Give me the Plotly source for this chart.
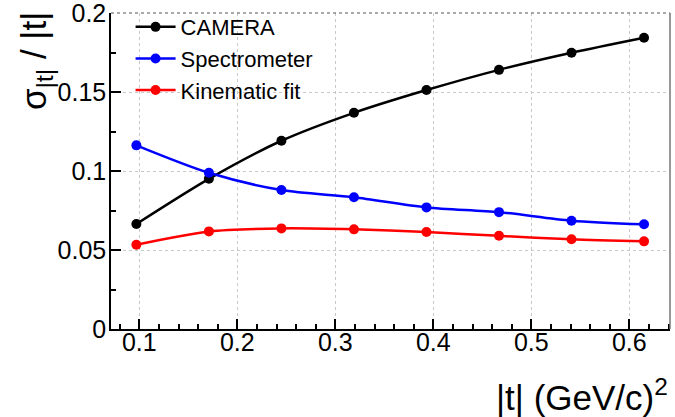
import plotly.graph_objects as go

t_values = [0.097, 0.171, 0.245, 0.319, 0.393, 0.467, 0.541, 0.615]
camera = [0.0665, 0.0951, 0.1192, 0.1369, 0.1513, 0.1641, 0.1749, 0.1844]
spectrometer = [0.1163, 0.0989, 0.0880, 0.0834, 0.0770, 0.0740, 0.0686, 0.0663]
kinematic_fit = [0.0534, 0.0618, 0.0637, 0.0631, 0.0614, 0.0590, 0.0568, 0.0555]

series = [
    ("CAMERA", camera, "#000000"),
    ("Spectrometer", spectrometer, "#0000ff"),
    ("Kinematic fit", kinematic_fit, "#ff0000"),
]
y_tick_vals = [0, 0.05, 0.1, 0.15, 0.2]
y_tick_text = ["0", "0.05", "0.1", "0.15", "0.2"]

FONT = "Liberation Sans, Arial, sans-serif"

fig = go.Figure()
for i, (name, vals, col) in enumerate(series):
    fig.add_trace(go.Scatter(
        x=t_values, y=vals, name=name, mode="lines+markers",
        line=dict(color=col, width=2.5, shape="spline", smoothing=0.8),
        marker=dict(color=col, size=10),
    ))

L, R, T, B = 111, 5, 13, 88
fig.update_layout(
    width=675, height=417,
    margin=dict(l=L, r=R, t=T, b=B, pad=0, autoexpand=False),
    paper_bgcolor="white", plot_bgcolor="white",
    font=dict(family=FONT, color="black"),
    showlegend=True,
    legend=dict(
        x=0.035, y=1.022, xanchor="left", yanchor="top",
        bgcolor="rgba(0,0,0,0)", font=dict(size=22, family=FONT),
        itemwidth=40,
    ),
    xaxis=dict(
        range=[0.0711, 0.6415], showline=True, linecolor="black", linewidth=1.5,
        ticks="inside", ticklen=10, tickwidth=1.5, tickcolor="black",
        tick0=0, dtick=0.1, tickformat=".1f",
        tickfont=dict(size=25, family=FONT), ticklabelstandoff=-10,
        ticklabeloverflow="allow", automargin=False,
        showgrid=True, gridcolor="#c8c8c8", griddash="dot", gridwidth=1,
        minor=dict(ticks="inside", ticklen=5, tickwidth=1.5, tickcolor="black",
                   dtick=0.02, tick0=0, showgrid=False),
        zeroline=False, fixedrange=True,
    ),
    yaxis=dict(
        range=[0, 0.2001], showline=True, linecolor="black", linewidth=1.5,
        ticks="inside", ticklen=10, tickwidth=1.5, tickcolor="black",
        tickvals=y_tick_vals, ticktext=y_tick_text,
        tickfont=dict(size=25, family=FONT), ticklabelstandoff=-2,
        ticklabeloverflow="allow", automargin=False,
        showgrid=True, gridcolor="#c8c8c8", griddash="dot", gridwidth=1,
        minor=dict(ticks="inside", ticklen=5, tickwidth=1.5, tickcolor="black",
                   dtick=0.025, tick0=0, showgrid=False),
        zeroline=False, fixedrange=True,
    ),
    shapes=[
        dict(type="line", xref="paper", yref="paper", x0=0, x1=1, y0=1, y1=1,
             line=dict(color="#555555", width=1.2, dash="dot")),
        dict(type="line", xref="paper", yref="paper", x0=1, x1=1, y0=0, y1=1,
             line=dict(color="#777777", width=1.5)),
    ],
    annotations=[
        dict(text="σ<sub>|t|</sub> / |t|", xref="paper", yref="paper",
             x=(12 - L) / 559, y=(329 - 10) / 316, xanchor="left", yanchor="top",
             textangle=-90, showarrow=False, font=dict(size=35, family=FONT)),
        dict(text="|t| (GeV/c)<sup>2</sup>", xref="paper", yref="paper",
             x=1.0, y=(329 - 395) / 316, xanchor="right", yanchor="middle",
             showarrow=False, font=dict(size=35, family=FONT)),
    ],
)

fig.write_html("out.html", config={"displayModeBar": False},
               post_script="document.body.style.margin='0';")
